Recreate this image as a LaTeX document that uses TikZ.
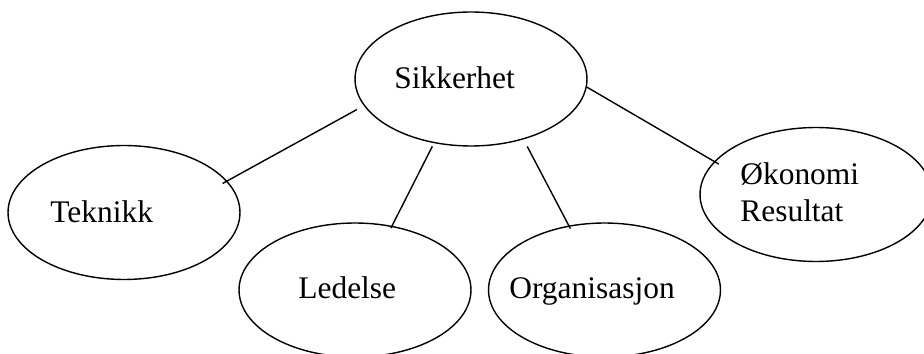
\documentclass[tikz,border=0pt]{standalone}
\usepackage{fontspec}
\setmainfont{Liberation Serif}
\usetikzlibrary{shapes.geometric}
\begin{document}
\begin{tikzpicture}[x=0.02cm,y=-0.02cm,
  bubble/.style={draw, ellipse, line width=0.8pt, minimum width=4.64cm, minimum height=2.68cm, inner sep=0pt},
  lbl/.style={anchor=base west, inner sep=0pt, font=\fontsize{17.9}{21}\selectfont},
  link/.style={line width=0.8pt}]
\useasboundingbox (0,0) rectangle (924,354);
\clip (0,0) rectangle (924,354);
% ellipses
\node[bubble] (sik) at (471,79) {};
\node[bubble] (tek) at (124,212.5) {};
\node[bubble] (led) at (355,290) {};
\node[bubble] (org) at (604.5,290) {};
\node[bubble] (oko) at (816,194.5) {};
% texts
\node[lbl] (tsik) at (394,89) {Sikkerhet};
\node[lbl] (ttek) at (50,223) {Teknikk};
\node[lbl] (tled) at (298,299) {Ledelse};
\node[lbl] (torg) at (509,299) {Organisasjon};
\node[lbl] (toko1) at (740,185) {Økonomi};
\node[lbl] (toko2) at (740,222) {Resultat};
% connectors
\draw[link, shorten <=-3pt, shorten >=4.5pt] (tek.17) -- (sik.194);
\draw[link, shorten <=-1.5pt, shorten >=2pt] (led.60) -- (sik.240);
\draw[link, shorten <=-2pt, shorten >=4.5pt] (org.119) -- (sik.311.7);
\draw[link, shorten >=-3pt] (sik.-4.5) -- (oko.162);
\end{tikzpicture}
\end{document}
